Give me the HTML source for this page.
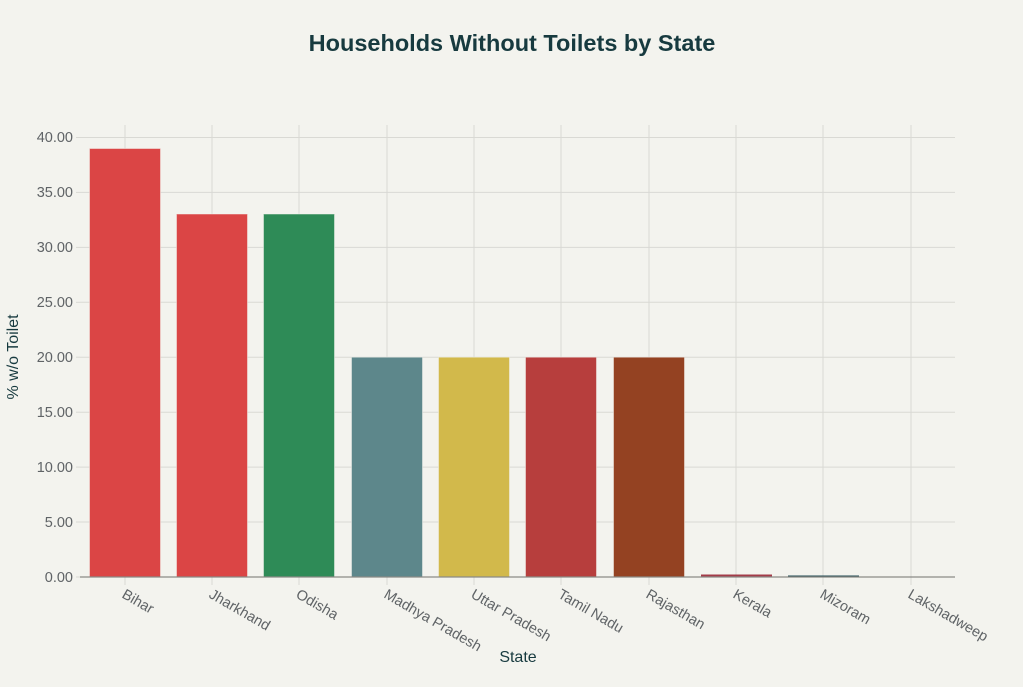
<!DOCTYPE html><html><head><meta charset="utf-8"><style>body{margin:0;background:#f3f3ee}</style></head><body>
<svg width="1023" height="682" xmlns="http://www.w3.org/2000/svg" font-family="Liberation Sans, sans-serif">
<rect width="1023" height="682" fill="#f3f3ee"/>
<text x="512" y="51" text-anchor="middle" font-size="23.5" font-weight="bold" fill="#173a3f">Households Without Toilets by State</text>
<g stroke="#d9d9d4" stroke-width="1">
<line x1="80" x2="955" y1="137.5" y2="137.5"/><line x1="80" x2="955" y1="192.4" y2="192.4"/><line x1="80" x2="955" y1="247.4" y2="247.4"/><line x1="80" x2="955" y1="302.3" y2="302.3"/><line x1="80" x2="955" y1="357.2" y2="357.2"/><line x1="80" x2="955" y1="412.2" y2="412.2"/><line x1="80" x2="955" y1="467.1" y2="467.1"/><line x1="80" x2="955" y1="522" y2="522"/>
<line x1="125" x2="125" y1="125" y2="585"/><line x1="212" x2="212" y1="125" y2="585"/><line x1="299" x2="299" y1="125" y2="585"/><line x1="387" x2="387" y1="125" y2="585"/><line x1="474" x2="474" y1="125" y2="585"/><line x1="561" x2="561" y1="125" y2="585"/><line x1="649" x2="649" y1="125" y2="585"/><line x1="736" x2="736" y1="125" y2="585"/><line x1="823" x2="823" y1="125" y2="585"/><line x1="911" x2="911" y1="125" y2="585"/>
<line x1="76" x2="80" y1="137.5" y2="137.5"/><line x1="76" x2="80" y1="192.4" y2="192.4"/><line x1="76" x2="80" y1="247.4" y2="247.4"/><line x1="76" x2="80" y1="302.3" y2="302.3"/><line x1="76" x2="80" y1="357.2" y2="357.2"/><line x1="76" x2="80" y1="412.2" y2="412.2"/><line x1="76" x2="80" y1="467.1" y2="467.1"/><line x1="76" x2="80" y1="522" y2="522"/><line x1="76" x2="80" y1="577" y2="577"/>
</g>
<g stroke="#f3f3ee" stroke-opacity="0.5" stroke-width="1">
<rect x="89.5" y="148.5" width="71" height="428.5" fill="#db4545"/>
<rect x="176.5" y="214" width="71" height="363" fill="#db4545"/>
<rect x="263.5" y="214" width="71" height="363" fill="#2e8b57"/>
<rect x="351.5" y="357.2" width="71" height="219.8" fill="#5d878b"/>
<rect x="438.5" y="357.2" width="71" height="219.8" fill="#d2b94b"/>
<rect x="525.5" y="357.2" width="71" height="219.8" fill="#b73e3d"/>
<rect x="613.5" y="357.2" width="71" height="219.8" fill="#944222"/>
<rect x="701" y="574.5" width="71" height="2.5" fill="#a33b48" stroke="none"/>
<rect x="788" y="575.5" width="71" height="1.5" fill="#1f4a52" stroke="none"/>
</g>
<line x1="80" x2="955" y1="577" y2="577" stroke="#8a8a86" stroke-width="1.2"/>
<g font-size="14.5" fill="#5f6366" text-anchor="end">
<text x="73" y="142">40.00</text><text x="73" y="197">35.00</text><text x="73" y="252">30.00</text><text x="73" y="307">25.00</text><text x="73" y="362">20.00</text><text x="73" y="417">15.00</text><text x="73" y="472">10.00</text><text x="73" y="527">5.00</text><text x="73" y="582">0.00</text>
</g>
<g font-size="14.5" fill="#5f6366">
<text transform="translate(121,597) rotate(30)">Bihar</text>
<text transform="translate(208,597) rotate(30)">Jharkhand</text>
<text transform="translate(295,597) rotate(30)">Odisha</text>
<text transform="translate(383,597) rotate(30)">Madhya Pradesh</text>
<text transform="translate(470,597) rotate(30)">Uttar Pradesh</text>
<text transform="translate(557,597) rotate(30)">Tamil Nadu</text>
<text transform="translate(645,597) rotate(30)">Rajasthan</text>
<text transform="translate(732,597) rotate(30)">Kerala</text>
<text transform="translate(819,597) rotate(30)">Mizoram</text>
<text transform="translate(907,597) rotate(30)">Lakshadweep</text>
</g>
<text x="518" y="662" text-anchor="middle" font-size="16" fill="#173a3f">State</text>
<text transform="translate(18,357) rotate(-90)" text-anchor="middle" font-size="16" fill="#173a3f">% w/o Toilet</text>
</svg>
</body></html>
